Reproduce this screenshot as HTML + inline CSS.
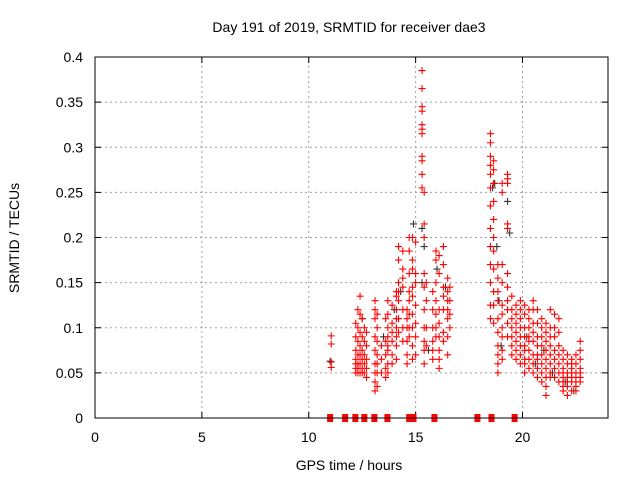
<!DOCTYPE html>
<html><head><meta charset="utf-8"><style>
body{margin:0;background:#fff;}
svg text{font-family:"Liberation Sans",sans-serif;font-size:14px;fill:#000;}
</style></head><body>
<svg id="chart" width="640" height="480" xmlns="http://www.w3.org/2000/svg">
<rect width="640" height="480" fill="#fff"/>
<text x="349" y="32" text-anchor="middle">Day 191 of 2019, SRMTID for receiver dae3</text>
<text x="349" y="470" text-anchor="middle">GPS time / hours</text>
<text transform="translate(19,238) rotate(-90)" text-anchor="middle">SRMTID / TECUs</text>
<g id="grid"></g><g id="axes"></g><g id="marks"></g>
<rect x="95" y="57" width="513" height="361" fill="none" stroke="#000" stroke-width="1"/>
</svg>
<script>
const xTicks=[0,5,10,15,20];
const yTicks=[0,0.05,0.1,0.15,0.2,0.25,0.3,0.35,0.4];
const yTickLabels=["0","0.05","0.1","0.15","0.2","0.25","0.3","0.35","0.4"];
const redCols=[
[11.05,[.091,.082,.062,.056]],
[12.2,[.105,.09,.075,.065,.06,.055,.05]],
[12.3,[.12,.1,.085,.07,.06,.055,.05]],
[12.4,[.135,.115,.095,.08,.07,.06,.05]],
[12.5,[.11,.09,.075,.065,.055,.05]],
[12.6,[.1,.085,.07,.06,.05]],
[12.7,[.095,.08,.065,.055,.045]],
[13.1,[.13,.12,.11,.09,.075,.06,.05,.04,.03]],
[13.2,[.115,.1,.085,.07,.06,.05,.035]],
[13.4,[.08,.065,.05]],
[13.6,[.11,.085,.07,.055,.045]],
[13.7,[.13,.115,.1,.09,.08,.075,.06,.05]],
[13.9,[.125,.105,.095,.085,.07,.06]],
[14.1,[.14,.135,.12,.11,.1,.09,.08,.065]],
[14.2,[.19,.175,.15,.14,.13,.11,.095]],
[14.4,[.185,.165,.155,.145,.12,.1,.085]],
[14.6,[.12,.11,.1,.085,.07,.06]],
[14.7,[.2,.185,.16,.14,.13,.115,.1,.09]],
[14.85,[.2,.175,.165,.145,.135,.115,.1,.08,.065]],
[15.0,[.195,.16,.15,.125,.105,.09,.07]],
[15.3,[.385,.365,.345,.34,.325,.32,.315,.29,.285,.27,.255]],
[15.4,[.25,.215,.2,.16,.145,.12,.1,.085,.075,.06]],
[15.5,[.15,.13,.1,.08]],
[15.8,[.14,.12,.1,.085,.075,.065]],
[15.95,[.185,.175,.15,.13,.115,.1,.09]],
[16.1,[.18,.16,.12,.105,.09,.075,.065,.055]],
[16.3,[.19,.17,.145,.135,.12,.095,.085]],
[16.5,[.155,.14,.13,.12,.11,.09,.07]],
[16.6,[.145,.13,.115,.1]],
[18.5,[.315,.305,.29,.28,.27,.255,.235,.21,.19,.17,.15,.125,.11]],
[18.65,[.285,.275,.26,.24,.22,.2,.185,.165,.14,.125,.105]],
[18.85,[.17,.155,.14,.13,.11,.095,.08,.07,.06,.05]],
[19.05,[.26,.25,.17,.15,.125,.115,.1,.09,.075,.065]],
[19.3,[.27,.265,.26,.215,.21,.16,.145,.13,.12,.105,.09]],
[19.5,[.135,.12,.11,.1,.09,.08,.07]],
[19.7,[.125,.115,.105,.095,.085,.075,.065]],
[19.9,[.13,.12,.11,.1,.09,.08,.07,.06]],
[20.1,[.125,.115,.1,.09,.08,.075,.065,.06,.05]],
[20.3,[.12,.11,.1,.09,.085,.075,.065,.055]],
[20.5,[.13,.12,.105,.095,.085,.07,.06,.05]],
[20.7,[.12,.105,.09,.08,.07,.065,.055,.045]],
[20.9,[.11,.1,.09,.08,.07,.06,.05,.04]],
[21.1,[.105,.095,.085,.075,.065,.055,.045,.035,.025]],
[21.3,[.12,.1,.09,.08,.07,.06,.05,.045]],
[21.5,[.115,.1,.09,.075,.065,.055,.045]],
[21.7,[.11,.095,.08,.07,.06,.05,.04]],
[21.9,[.075,.065,.055,.05,.045,.04,.035,.03]],
[22.1,[.07,.06,.05,.045,.04,.035,.025]],
[22.3,[.065,.06,.055,.05,.045,.04,.03]],
[22.5,[.07,.06,.05,.045,.04,.035,.03]],
[22.7,[.085,.075,.065,.055,.05,.045,.04]]
];
const blackT=[11.0,12.5,13.5,14.3,14.9,15.3,15.4,15.3,15.6,16.0,16.4,18.6,18.7,18.8,19.3,19.4,19.0,20.2,20.6,21.0,21.4,22.0,22.4,18.9,14.0];
const blackV=[.063,.11,.09,.14,.215,.21,.19,.15,.075,.165,.145,.255,.26,.19,.24,.205,.08,.09,.06,.075,.05,.04,.03,.13,.12];
const zeroT=[11.0,11.7,12.18,12.6,13.07,13.68,14.7,14.9,15.88,17.89,18.55,19.63];
const NS="http://www.w3.org/2000/svg";
const X0=95,X1=608,Y0=418,Y1=57,XMAX=24,YMAX=0.4;
function sx(t){return X0+t/XMAX*(X1-X0);}
function sy(v){return Y0-v/YMAX*(Y0-Y1);}
function mk(tag,attrs,parent){const e=document.createElementNS(NS,tag);for(const k in attrs)e.setAttribute(k,attrs[k]);parent.appendChild(e);return e;}
const grid=document.getElementById('grid'),axes=document.getElementById('axes'),marks=document.getElementById('marks');
xTicks.forEach(t=>{const x=sx(t);
 if(t>0){const g=mk('line',{x1:x,x2:x,y1:Y0,y2:Y1,stroke:'#a0a0a0','stroke-dasharray':'2,3'},grid);
 
 }
 mk('line',{x1:x,x2:x,y1:Y0,y2:Y0-6,stroke:'#000'},axes);mk('line',{x1:x,x2:x,y1:Y1,y2:Y1+6,stroke:'#000'},axes);
 const l=mk('text',{x:x,y:Y0+24,'text-anchor':'middle'},axes);l.textContent=t;
 
 });
yTicks.forEach((v,i)=>{const y=sy(v);
 if(v>0&&v<YMAX){const g=mk('line',{x1:X0,x2:X1,y1:y,y2:y,stroke:'#a0a0a0','stroke-dasharray':'2,3'},grid);
 
 }
 mk('line',{x1:X0,x2:X0+6,y1:y,y2:y,stroke:'#000'},axes);mk('line',{x1:X1,x2:X1-6,y1:y,y2:y,stroke:'#000'},axes);
 const l=mk('text',{x:X0-12,y:y+5,'text-anchor':'end'},axes);l.textContent=yTickLabels[i];
 
 });
function plus(t,v,c,name){const x=sx(t),y=sy(v);
 const p=mk('path',{d:`M${x-3.5},${y}h7M${x},${y-3.5}v7`,stroke:c,'stroke-width':1.1,fill:'none'},marks);
 
 }
blackT.forEach((t,i)=>plus(t,blackV[i],'#333','black-point'));
redCols.forEach(c=>c[1].forEach(v=>plus(c[0],v,'#f00','red-point')));
zeroT.forEach(t=>{const r=mk('rect',{x:sx(t)-3,y:Y0-4,width:6,height:8,fill:'#f00'},marks);
 
 });
</script>
</body></html>
